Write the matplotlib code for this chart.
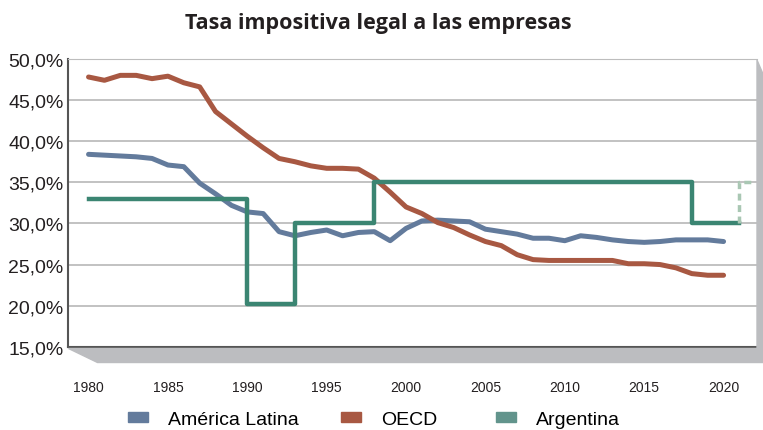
import numpy as np
import matplotlib.pyplot as plt
from matplotlib.patches import Polygon, Patch

years = np.arange(1980, 2021)
america_latina = [38.4, 38.3, 38.2, 38.1, 37.9, 37.1, 36.9, 34.9, 33.6, 32.2,
                  31.4, 31.2, 29.0, 28.5, 28.9, 29.2, 28.5, 28.9, 29.0, 27.9,
                  29.4, 30.3, 30.4, 30.3, 30.2, 29.3, 29.0, 28.7, 28.2, 28.2,
                  27.9, 28.5, 28.3, 28.0, 27.8, 27.7, 27.8, 28.0, 28.0, 28.0,
                  27.8]
oecd = [47.8, 47.4, 48.0, 48.0, 47.6, 47.9, 47.1, 46.6, 43.6, 42.1,
        40.6, 39.2, 37.9, 37.5, 37.0, 36.7, 36.7, 36.6, 35.5, 33.8,
        32.0, 31.2, 30.1, 29.5, 28.6, 27.8, 27.3, 26.2, 25.6, 25.5,
        25.5, 25.5, 25.5, 25.5, 25.1, 25.1, 25.0, 24.6, 23.9, 23.7,
        23.7]
arg_years = [1980, 1990, 1993, 1998, 2018, 2021]
arg_rate = [33.0, 20.2, 30.0, 35.0, 30.0, 30.0]
arg_proj_years = [2021, 2021, 2022]
arg_proj_rate = [30.0, 35.0, 35.0]
yticks = [15, 20, 25, 30, 35, 40, 45, 50]
xticks = list(range(1980, 2021, 5))
series_names = ['América Latina', 'OECD', 'Argentina']

c_al = '#637b9c'
c_oecd = '#a85842'
c_arg = '#3b8572'
c_arg_leg = '#62948c'
c_proj = '#a9c7b3'

narrow = ['Liberation Sans Narrow', 'Liberation Sans', 'DejaVu Sans']
fig = plt.figure(figsize=(7.63, 4.31), dpi=100)
ax = fig.add_axes([0.089, 0.193, 0.903, 0.668])

# sombra "3D" del área de gráfico
fig.patches.append(Polygon([[68/763, 1-349/431], [763/763, 1-349/431],
                            [763/763, 1-363/431], [97/763, 1-363/431]],
                           closed=True, transform=fig.transFigure, color='#bcbdc0', zorder=0))
fig.patches.append(Polygon([[757/763, 1-61/431], [763/763, 1-75/431], [763/763, 1-363/431],
                            [757/763, 1-349/431]],
                           closed=True, transform=fig.transFigure, color='#bcbdc0', zorder=0))

ax.plot(years, america_latina, color=c_al, lw=3.6, solid_capstyle='round', zorder=3)
ax.plot(years, oecd, color=c_oecd, lw=3.6, solid_capstyle='round', zorder=3)
ax.step(arg_years, arg_rate, where='post', color=c_arg, lw=3.2, zorder=4)
ax.plot(arg_proj_years, arg_proj_rate, color=c_proj, lw=2.5, ls=(0, (2, 1.3)), zorder=4)

ax.set_xlim(1978.7, 2022.1)
ax.set_ylim(15, 50)
ax.set_yticks(yticks)
ax.set_xticks(xticks)
ax.set_xticklabels([str(v) for v in xticks], fontsize=10, family=narrow, color='#231f20')
for lb in ax.get_yticklabels():
    lb.set_fontsize(14)
    lb.set_family(narrow)
    lb.set_color('#231f20')
ax.tick_params(axis='y', length=0, pad=3, labelsize=14)
ax.tick_params(axis='x', length=0, pad=24)
ax.yaxis.set_major_formatter(plt.FuncFormatter(lambda v, p: ('%.1f%%' % v).replace('.', ',')))
ax.grid(axis='y', color='#bdbdbd', lw=1.3)
ax.set_axisbelow(True)
for s in ['left', 'bottom']:
    ax.spines[s].set_color('#555555')
    ax.spines[s].set_linewidth(1.5)
ax.spines['top'].set_color('#bdbdbd')
ax.spines['right'].set_visible(False)
ax.patch.set_alpha(0)

fig.text(0.496, 0.945, 'Tasa impositiva legal a las empresas', ha='center', va='center',
         fontsize=15.5, fontweight='bold', family=['Open Sans', 'DejaVu Sans'], color='#231f20')

# leyenda: una entrada por posición, como en el original
leg_x = [128/763, 341/763, 496/763]
for name, col, x0 in zip(series_names, [c_al, c_oecd, c_arg_leg], leg_x):
    lg = fig.legend(handles=[Patch(color=col, label=name)], loc='center left',
                    bbox_to_anchor=(x0, 0.024), frameon=False, borderaxespad=0, borderpad=0,
                    prop={'family': narrow, 'size': 14}, handlelength=1.05, handleheight=0.45,
                    handletextpad=1.0)

fig.savefig('out.png', dpi=100)
